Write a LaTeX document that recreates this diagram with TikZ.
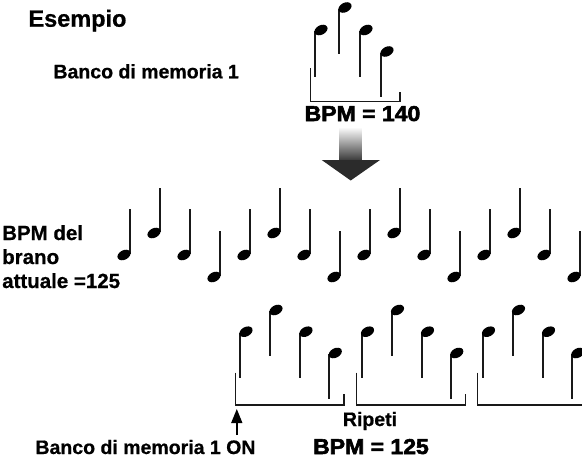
\documentclass[tikz,border=0pt]{standalone}
\usepackage{fontspec}
\usepackage{graphicx}
\setmainfont[FakeBold=0.7]{Liberation Sans}
\newfontfamily\heavyfont[FakeBold=2.6]{Liberation Sans}
\usetikzlibrary{arrows.meta}
\newcommand\mynoteup[3]{% stem x, stem top y, head centre y
  \draw[stemline] (#1,#2) -- (#1,#3-1);
  \fill[rotate around={28:(#1-6,#3)}] (#1-6,#3) ellipse [x radius=7pt, y radius=4.7pt];
}
\newcommand\mynotedown[3]{% stem x, head centre y, stem bottom y
  \draw[stemline] (#1,#2+1) -- (#1,#3);
  \fill[rotate around={28:(#1+6,#2)}] (#1+6,#2) ellipse [x radius=7pt, y radius=4.7pt];
}
\begin{document}
\begin{tikzpicture}[x=1pt,y=-1pt,
  stemline/.style={line width=2pt, black!90},
  bracketline/.style={line width=1.3pt, black!90},
  lbl/.style={inner sep=0pt, font=\bfseries\fontsize{19.5}{22}\selectfont},
  sidelbl/.style={inner sep=0pt, font=\bfseries\fontsize{20.5}{24}\selectfont},
  biglbl/.style={inner sep=0pt, font=\bfseries\fontsize{23.5}{26}\selectfont},
  heavylbl/.style={inner sep=0pt, font=\heavyfont\bfseries\fontsize{21.5}{24}\selectfont},
  pointer/.style={line width=1.4pt, -{Triangle[width=11pt,length=14pt]}}]
\useasboundingbox (0,0) rectangle (582,458);
\clip (0,0) rectangle (582,458);

% texts
\node[biglbl, anchor=base west] (esempio) at (28.3,26.7) {Esempio};
\node[lbl, anchor=base west] (banco) at (53.3,78.3) {Banco di memoria 1};
\node[heavylbl, anchor=base] (bpm140) at (362.5,121) {\scalebox{1.07}[1]{BPM = 140}};
\node[sidelbl, anchor=base west] (bpmdel) at (2,240) {BPM del};
\node[sidelbl, anchor=base west] (brano) at (2,264) {brano};
\node[sidelbl, anchor=base west] (attuale) at (2,288) {attuale =125};
\node[lbl, anchor=base west] (ripeti) at (342.7,426) {Ripeti};
\node[heavylbl, anchor=base] (bpm125) at (371,454) {\scalebox{1.07}[1]{BPM = 125}};
\node[lbl, anchor=base west] (bancoon) at (35.3,454) {Banco di memoria 1 ON};

% top group
\mynotedown{315}{30}{76.5}
\mynotedown{339}{7.5}{53.5}
\mynotedown{360}{30}{76.5}
\mynotedown{381}{51.5}{97}
\draw[bracketline] (310.7,68.3) -- (310.7,101.7) -- (400,101.7) -- (400,91.7);

% big arrow
\shade[top color=white, bottom color=black!78] (339.3,127) rectangle (361.7,160.5);
\fill[black!83] (321.7,160) -- (380,160) -- (350.7,180.5) -- cycle;

% middle row
\foreach \x/\t/\h in {130/209/255, 160/188/233, 190/209/255, 220/231/277,
  250/209/255, 280/188/233, 310/209/255, 340/231/277,
  370/209/255, 400/188/233, 430/209/255, 460/231/277,
  490/209/255, 520/188/233, 550/209/255, 580/231/277}
  {\mynoteup{\x}{\t}{\h}}

% bottom groups
\foreach \g in {240, 361.5, 482.5} {
  \mynotedown{\g}{331.7}{378}
  \mynotedown{\g+30}{310}{356}
  \mynotedown{\g+60}{331.7}{378}
  \mynotedown{\g+89.3}{353}{399}
  \draw[bracketline] (\g-4.7,372.7) -- (\g-4.7,405) -- (\g+104,405) -- (\g+104,394);
}

% pointer arrow
\coordinate (ptail) at (236.8,435);
\coordinate (ptip) at (236.8,409);
\draw[pointer] (ptail) -- (ptip);
\end{tikzpicture}
\end{document}
